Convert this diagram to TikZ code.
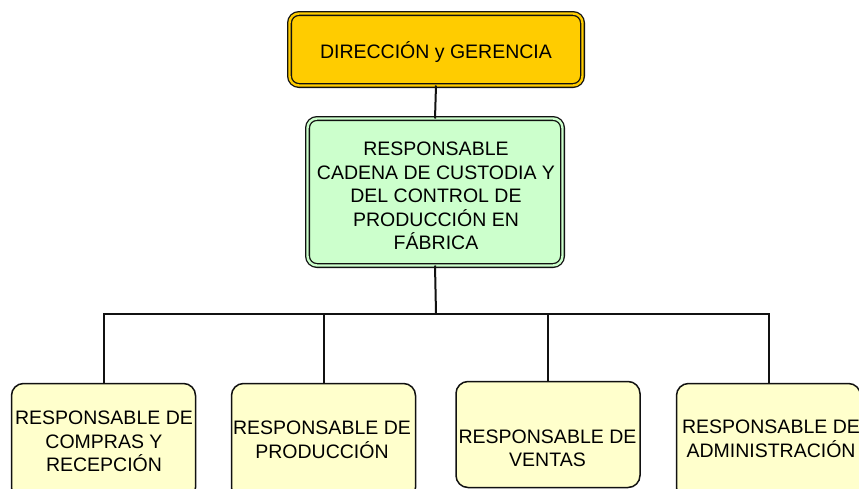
\documentclass[tikz,border=0pt]{standalone}
\usepackage{fontspec}
\setmainfont{Liberation Sans}
\definecolor{goldfill}{HTML}{FFCC00}
\definecolor{greenfill}{HTML}{CCFFCC}
\definecolor{yellowfill}{HTML}{FFFFCC}
\definecolor{edge}{HTML}{111111}
\tikzset{
  dblbox/.style={draw=edge, line width=1.3pt, double distance=2.4pt, rounded corners=9.5pt,
    inner sep=0pt, outer sep=0pt},
  topbox/.style={dblbox, fill=goldfill, double=goldfill, minimum width=293pt, minimum height=72pt},
  midbox/.style={dblbox, fill=greenfill, double=greenfill, minimum width=255pt, minimum height=147pt},
  leafbox/.style={draw=edge, line width=1.5pt, fill=yellowfill, rounded corners=12pt,
    inner sep=0pt, outer sep=0pt, minimum width=184pt, minimum height=106pt},
  tallleaf/.style={leafbox, minimum height=116pt},
  lbl/.style={align=center, inner sep=0pt, font=\fontsize{19.5}{23.5}\selectfont, text=black},
  conn/.style={draw=edge, line width=2pt}
}
\begin{document}
\begin{tikzpicture}[x=1pt, y=-1pt]
\clip (0,0) rectangle (859,488);
\fill[white] (0,0) rectangle (859,488);
% boxes
\node[topbox] (dir) at (436,49.5) {};
\node[midbox] (resp) at (435,192) {};
\node[tallleaf] (b1) at (103.5,441.5) {};
\node[tallleaf] (b2) at (323.5,441.5) {};
\node[leafbox] (b3) at (548,434.5) {};
\node[tallleaf] (b4) at (768.5,441.5) {};
% texts
\node[lbl] (tdir) at (436,52) {DIRECCIÓN y GERENCIA};
\node[lbl] (tresp) at (436,196) {RESPONSABLE\\CADENA DE CUSTODIA Y\\DEL CONTROL DE\\PRODUCCIÓN EN\\FÁBRICA};
\node[lbl] (t1) at (104,441.5) {RESPONSABLE DE\\COMPRAS Y\\RECEPCIÓN};
\node[lbl] (t2) at (322,440) {RESPONSABLE DE\\PRODUCCIÓN};
\node[lbl] (t3) at (547.5,448.5) {RESPONSABLE DE\\VENTAS};
\node[lbl] (t4) at (771,439) {RESPONSABLE DE\\ADMINISTRACIÓN};
% connectors
\coordinate (bus) at (436,313.5);
\draw[conn] (dir.south) -- (resp.north);
\draw[conn] (resp.south) -- (bus);
\draw[conn, line cap=rect] (b1.north |- bus) -- (b4.north |- bus);
\draw[conn] (b1.north |- bus) -- (b1.north);
\draw[conn] (b2.north |- bus) -- (b2.north);
\draw[conn] (b3.north |- bus) -- (b3.north);
\draw[conn] (b4.north |- bus) -- (b4.north);
\end{tikzpicture}
\end{document}
